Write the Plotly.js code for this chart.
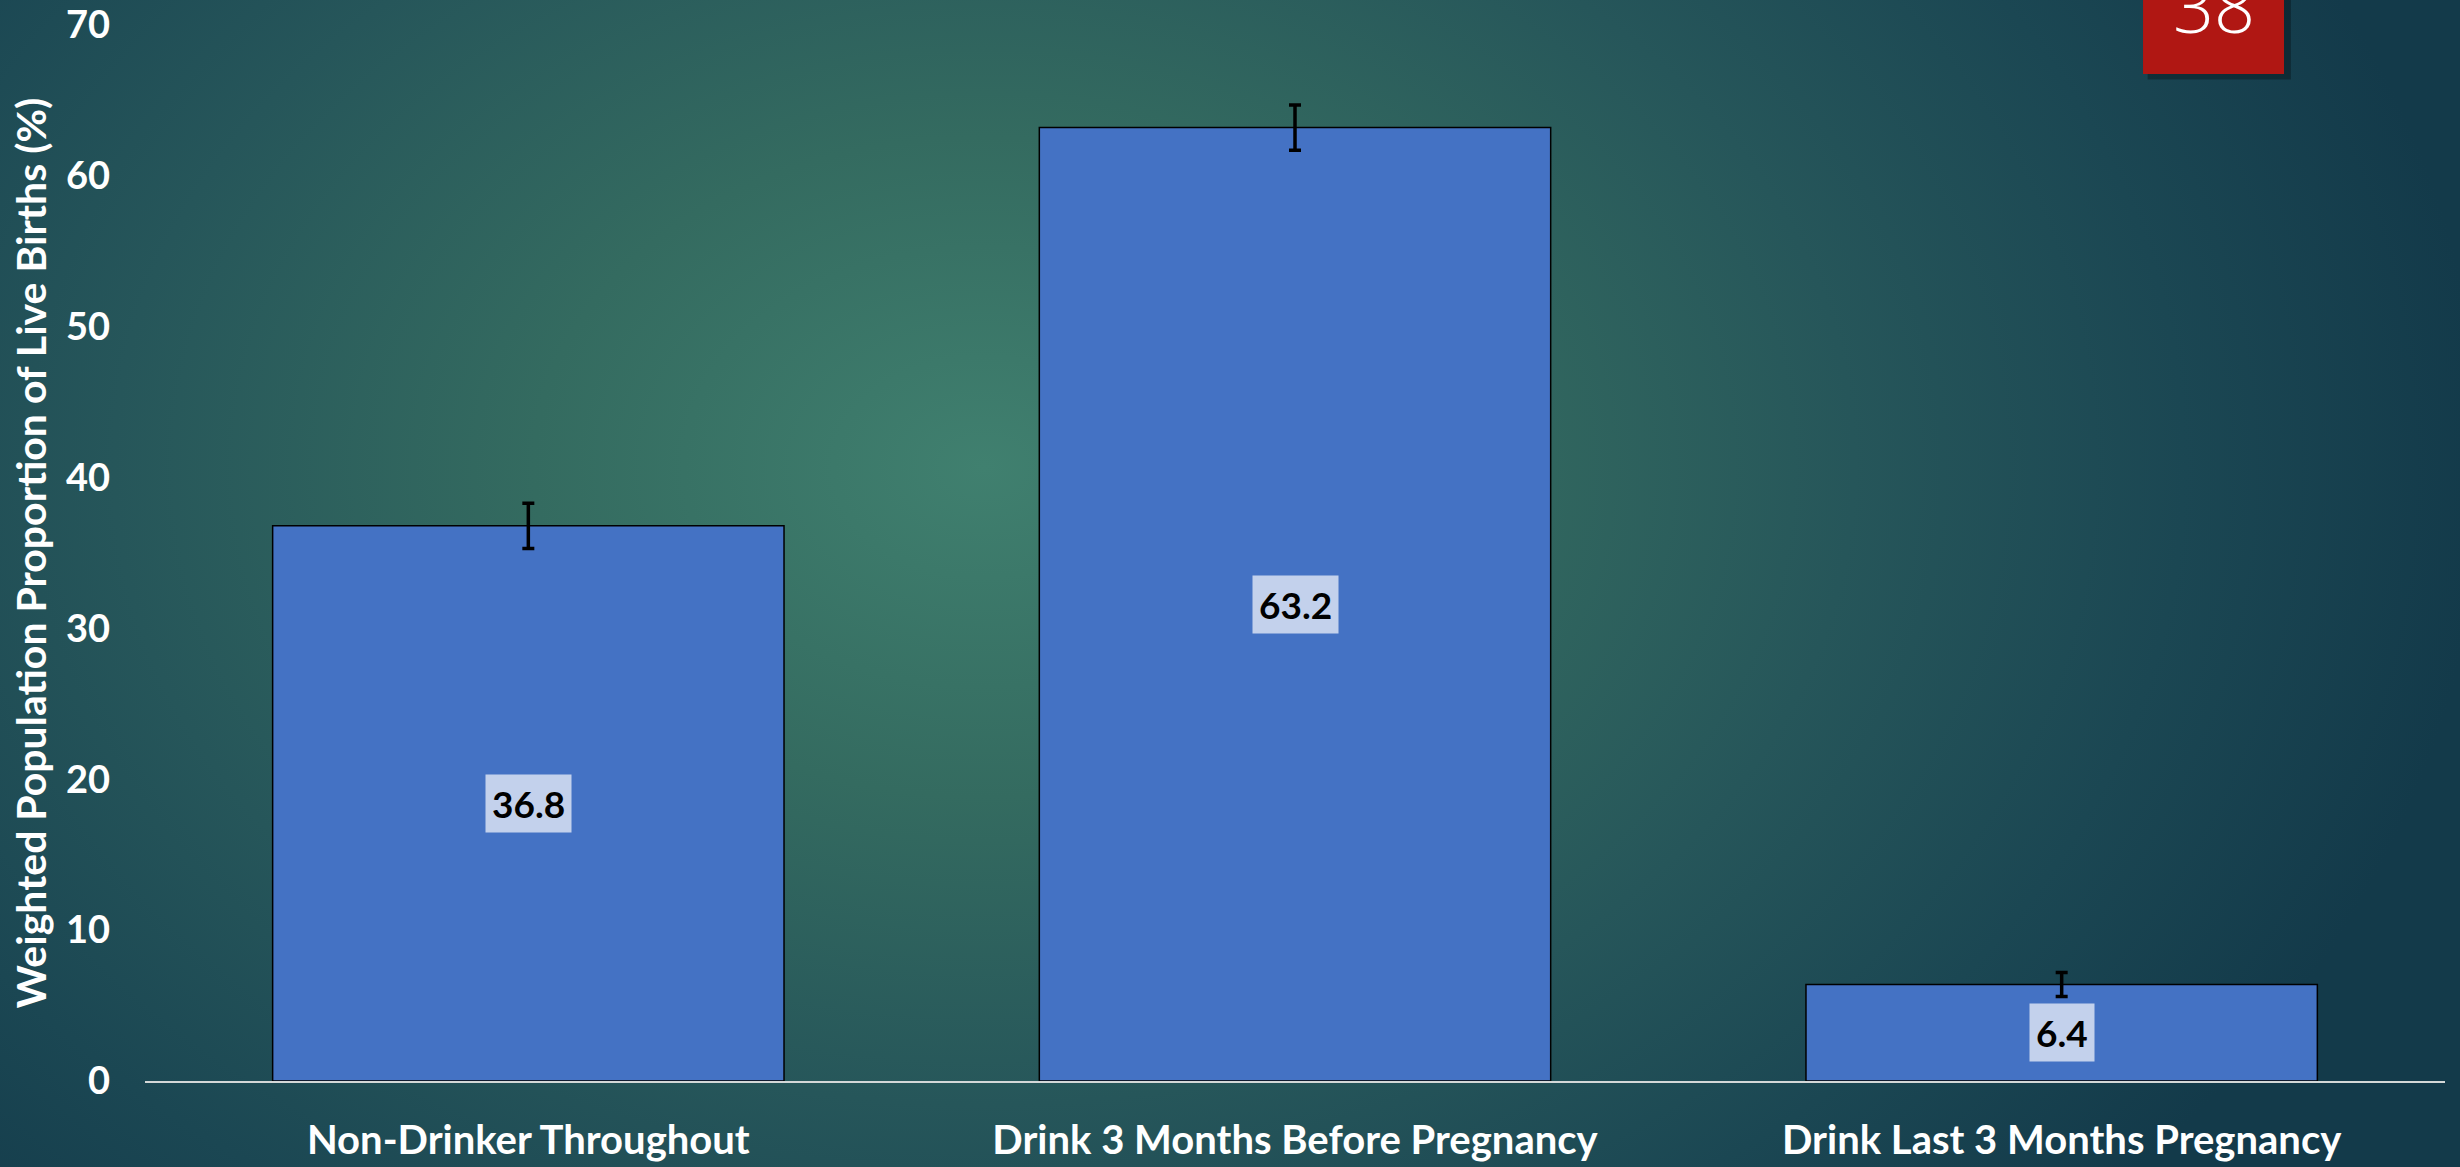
<!DOCTYPE html>
<html>
<head>
<meta charset="utf-8">
<script src="https://cdn.plot.ly/plotly-3.0.1.min.js"></script>
<style>
  html, body { margin: 0; padding: 0; width: 2460px; height: 1167px; overflow: hidden; }
  body {
    background: radial-gradient(ellipse 1500px 1100px at 40% 40%,
      #40806f 0%, #346b60 30%, #26565a 58%, #1b4753 80%, #133a4a 100%);
  }
  #chart { width: 2460px; height: 1167px; }
</style>
</head>
<body>
<div id="chart"></div>
<script>
// Weighted share of live births by maternal drinking status
const categories = [
  "Non-Drinker Throughout",
  "Drink 3 Months Before Pregnancy",
  "Drink Last 3 Months Pregnancy"
];
const proportions = [36.8, 63.2, 6.4];
const errorMargins = [1.5, 1.5, 0.8];
const yTickValues = [0, 10, 20, 30, 40, 50, 60, 70];
const slideNumber = "38";

const FONT = "Lato, 'Open Sans', sans-serif";

const bars = {
  type: "bar",
  x: categories,
  y: proportions,
  marker: { color: "#4472C4", line: { color: "#000000", width: 1.5 } },
  error_y: {
    type: "data",
    array: errorMargins,
    visible: true,
    color: "#000000",
    thickness: 3.5,
    width: 6
  },
  hoverinfo: "skip",
  showlegend: false
};

// value labels sit at the middle of each bar on a pale box
const valueLabels = categories.map((c, i) => ({
  x: c,
  y: proportions[i] / 2,
  xref: "x",
  yref: "y",
  text: "<b>" + proportions[i].toFixed(1) + "</b>",
  showarrow: false,
  bgcolor: "#C3D1EC",
  borderpad: 6,
  font: { family: FONT, size: 37, color: "#000000" }
}));

const slideLabel = {
  x: 0.8994, y: 1.0237,
  xref: "paper", yref: "paper",
  xanchor: "center", yanchor: "top",
  yshift: 46,
  text: slideNumber,
  showarrow: false,
  font: { family: "'Open Sans', sans-serif", size: 72, color: "#ffffff", weight: 300 }
};

const layout = {
  width: 2460,
  height: 1167,
  margin: { l: 145, r: 15, t: 25, b: 86 },
  paper_bgcolor: "rgba(0,0,0,0)",
  plot_bgcolor: "rgba(0,0,0,0)",
  bargap: 0.333,
  font: { family: FONT, color: "#ffffff" },
  xaxis: {
    showgrid: false,
    zeroline: false,
    showline: true,
    linecolor: "#d4d8d8",
    linewidth: 2,
    ticks: "",
    ticklabelstandoff: 23,
    tickfont: { family: FONT, size: 40, color: "#ffffff", weight: "bold" }
  },
  yaxis: {
    range: [0, 70],
    tickvals: yTickValues,
    showgrid: false,
    zeroline: false,
    showline: false,
    ticks: "",
    ticklabelstandoff: 34,
    tickfont: { family: FONT, size: 38, color: "#ffffff", weight: "bold" },
    title: {
      text: "Weighted Population Proportion of Live Births (%)",
      font: { family: FONT, size: 41, color: "#ffffff", weight: "bold" },
      standoff: 6
    }
  },
  shapes: [
    {
      type: "rect", xref: "paper", yref: "paper",
      x0: 0.8707, x1: 0.9330, y0: 0.9485, y1: 1.03,
      fillcolor: "rgba(0,0,0,0.3)", line: { width: 0 }, layer: "above"
    },
    {
      type: "rect", xref: "paper", yref: "paper",
      x0: 0.8687, x1: 0.9300, y0: 0.9536, y1: 1.03,
      fillcolor: "#B01713", line: { width: 0 }, layer: "above"
    }
  ],
  annotations: valueLabels.concat([slideLabel])
};

Plotly.newPlot("chart", [bars], layout, { displayModeBar: false, staticPlot: true });
</script>
</body>
</html>
